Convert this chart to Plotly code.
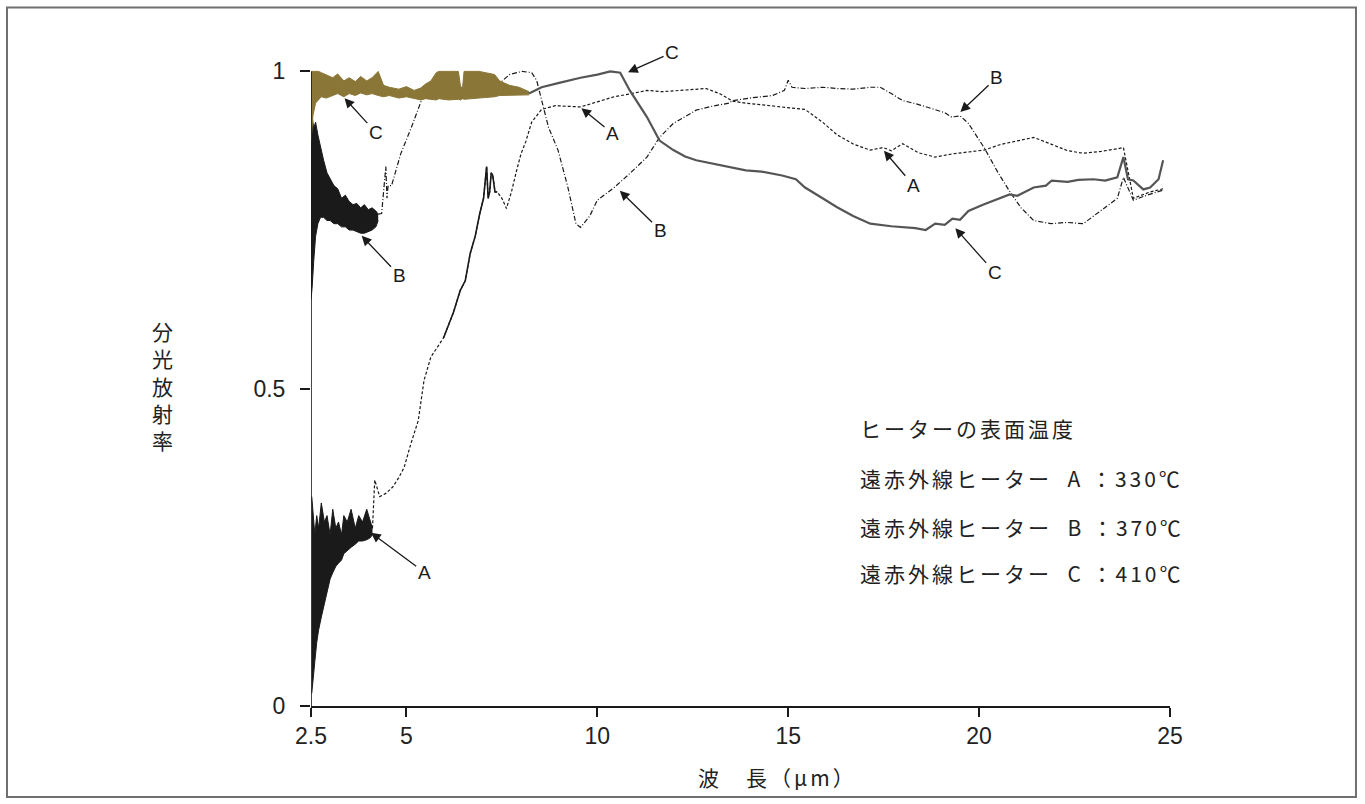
import plotly.graph_objects as go

# ---------------- data (wavelength in µm, spectral emissivity) ----------------
# Heater C (410°C): noisy band at short wavelengths
C_band_x = [2.5, 2.55, 2.62, 2.7, 2.77, 2.9, 3.07, 3.2, 3.36, 3.5, 3.66, 3.8, 3.96, 4.1, 4.26, 4.4, 4.55, 4.8,
            5.0, 5.2, 5.38, 5.5, 5.64, 5.78, 5.85, 6.1, 6.36, 6.42, 6.47, 6.51, 6.9, 7.31, 7.44, 7.7, 7.95, 8.21]
C_band_hi = [1.0, 1.0, 1.0, 1.0, 0.998, 0.995, 0.99, 0.996, 0.985, 0.99, 0.984, 0.992, 0.985, 0.99, 1.0, 0.978,
             0.975, 0.972, 0.976, 0.97, 0.974, 0.98, 0.985, 0.998, 1.0, 1.0, 1.0, 0.975, 0.975, 1.0, 1.0, 0.995,
             0.985, 0.978, 0.975, 0.968]
C_band_lo = [0.89, 0.93, 0.95, 0.955, 0.96, 0.958, 0.962, 0.965, 0.96, 0.965, 0.962, 0.966, 0.963, 0.965, 0.962,
             0.96, 0.962, 0.958, 0.96, 0.958, 0.955, 0.957, 0.956, 0.955, 0.957, 0.955, 0.956, 0.955, 0.957, 0.956,
             0.958, 0.96, 0.962, 0.962, 0.963, 0.963]
# Heater C: trace at longer wavelengths
C_x = [8.21, 8.54, 9.0, 9.56, 10.0, 10.34, 10.6, 10.85, 11.3, 11.63, 11.99, 12.3, 12.59, 13.0, 13.45, 13.89, 14.3,
       14.84, 15.2, 15.44, 15.9, 16.28, 16.7, 17.15, 17.7, 18.33, 18.6, 18.85, 19.1, 19.3, 19.5, 19.72, 20.1,
       20.57, 20.8, 21.0, 21.43, 21.75, 21.9, 22.32, 22.6, 23.0, 23.3, 23.62, 23.78, 23.9, 24.04, 24.3, 24.48,
       24.7, 24.82]
C_y = [0.965, 0.975, 0.982, 0.99, 0.995, 1.0, 0.998, 0.97, 0.928, 0.891, 0.876, 0.866, 0.86, 0.855, 0.85, 0.844,
       0.842, 0.836, 0.83, 0.817, 0.80, 0.786, 0.772, 0.76, 0.756, 0.753, 0.75, 0.76, 0.758, 0.768, 0.766, 0.78,
       0.79, 0.80, 0.806, 0.804, 0.817, 0.82, 0.828, 0.826, 0.829, 0.83, 0.828, 0.833, 0.865, 0.83, 0.828, 0.814,
       0.817, 0.83, 0.86]

# Heater A (330°C): noisy band at short wavelengths
A_band_x = [2.52, 2.56, 2.6, 2.65, 2.7, 2.77, 2.85, 2.92, 3.0, 3.07, 3.15, 3.22, 3.3, 3.36, 3.45, 3.55, 3.66,
            3.75, 3.85, 3.96, 4.05, 4.11]
A_band_hi = [0.33, 0.30, 0.27, 0.30, 0.28, 0.32, 0.29, 0.30, 0.27, 0.31, 0.28, 0.29, 0.27, 0.30, 0.29, 0.31, 0.28,
             0.30, 0.29, 0.31, 0.29, 0.28]
A_band_lo = [0.02, 0.05, 0.07, 0.10, 0.12, 0.14, 0.16, 0.18, 0.20, 0.21, 0.22, 0.225, 0.23, 0.24, 0.245, 0.25,
             0.255, 0.26, 0.26, 0.262, 0.265, 0.27]
A_x = [4.11, 4.17, 4.3, 4.46, 4.64, 4.8, 4.94, 5.1, 5.31, 5.46, 5.64, 5.8, 5.97, 6.1, 6.23, 6.41, 6.54, 6.67,
       6.8, 6.92, 7.02, 7.10, 7.14, 7.18, 7.22, 7.26, 7.32, 7.38, 7.5, 7.62, 7.75, 7.87, 8.0, 8.13, 8.28, 8.54,
       8.9, 9.2, 9.56, 10.0, 10.44, 10.9, 11.3, 11.7, 12.15, 12.5, 12.85, 13.2, 13.55, 13.89, 14.2, 14.59, 15.0,
       15.44, 15.9, 16.28, 16.72, 17.15, 17.49, 17.7, 18.0, 18.4, 18.85, 19.3, 19.72, 20.13, 20.57, 21.0, 21.43,
       21.9, 22.32, 22.73, 23.2, 23.62, 23.78, 24.04, 24.48, 24.82]
A_y = [0.28, 0.356, 0.33, 0.335, 0.345, 0.36, 0.376, 0.41, 0.45, 0.513, 0.55, 0.565, 0.58, 0.60, 0.62, 0.655,
       0.67, 0.713, 0.74, 0.776, 0.80, 0.85, 0.80, 0.81, 0.84, 0.836, 0.81, 0.81, 0.80, 0.784, 0.81, 0.84, 0.87,
       0.89, 0.92, 0.94, 0.946, 0.945, 0.944, 0.952, 0.96, 0.965, 0.97, 0.968, 0.97, 0.972, 0.973, 0.965, 0.953,
       0.95, 0.948, 0.945, 0.942, 0.94, 0.92, 0.90, 0.885, 0.876, 0.88, 0.875, 0.886, 0.872, 0.865, 0.87, 0.873,
       0.876, 0.885, 0.89, 0.896, 0.885, 0.875, 0.871, 0.874, 0.878, 0.88, 0.80, 0.81, 0.815]

# Heater B (370°C)
B_band_x = [2.5, 2.53, 2.57, 2.62, 2.68, 2.75, 2.83, 2.92, 3.0, 3.1, 3.2, 3.3, 3.4, 3.5, 3.6, 3.7, 3.8, 3.9, 4.0,
            4.1, 4.2, 4.26]
B_band_hi = [0.92, 0.93, 0.91, 0.92, 0.90, 0.88, 0.86, 0.84, 0.83, 0.82, 0.815, 0.80, 0.805, 0.795, 0.79, 0.792,
             0.785, 0.79, 0.782, 0.785, 0.78, 0.775]
B_band_lo = [0.64, 0.66, 0.70, 0.74, 0.76, 0.77, 0.77, 0.765, 0.765, 0.76, 0.76, 0.755, 0.755, 0.75, 0.75, 0.748,
             0.745, 0.745, 0.748, 0.75, 0.755, 0.765]
B_x = [4.26, 4.35, 4.46, 4.49, 4.52, 4.61, 4.85, 5.13, 5.46, 5.56, 5.9, 6.67, 7.44, 7.51, 7.7, 8.03, 8.28, 8.41,
       8.54, 8.72, 8.97, 9.23, 9.44, 9.56, 9.8, 10.0, 10.44, 10.85, 11.3, 11.63, 11.99, 12.59, 13.0, 13.45, 13.55,
       14.0, 14.59, 14.9, 15.0, 15.1, 15.44, 15.9, 16.28, 16.7, 17.15, 17.41, 17.7, 18.0, 18.4, 18.85, 19.1, 19.28,
       19.5, 19.72, 20.13, 20.5, 20.83, 21.1, 21.43, 21.88, 22.3, 22.73, 23.18, 23.62, 23.78, 24.04, 24.4, 24.82]
B_y = [0.775, 0.776, 0.85, 0.80, 0.82, 0.82, 0.87, 0.912, 0.965, 0.967, 0.972, 0.975, 0.978, 0.985, 0.995, 1.0,
       0.998, 0.986, 0.954, 0.912, 0.876, 0.817, 0.76, 0.754, 0.772, 0.797, 0.817, 0.839, 0.865, 0.896, 0.918,
       0.939, 0.945, 0.95, 0.954, 0.958, 0.962, 0.97, 0.986, 0.975, 0.973, 0.975, 0.973, 0.972, 0.975, 0.975,
       0.965, 0.954, 0.948, 0.94, 0.935, 0.928, 0.93, 0.918, 0.88, 0.84, 0.808, 0.785, 0.765, 0.76, 0.762, 0.76,
       0.78, 0.80, 0.833, 0.797, 0.805, 0.813]

x_ticks = [2.5, 5, 10, 15, 20, 25]
x_ticktext = ["2.5", "5", "10", "15", "20", "25"]
y_ticks = [0, 0.5, 1]
y_ticktext = ["0", "0.5", "1"]

# labels: (text, tip x, tip y, dx px, dy px)
labels = [
    ("C", 10.78, 0.998, 45, -20),
    ("C", 3.36, 0.959, 32, 35),
    ("A", 9.56, 0.943, 32, 26),
    ("B", 3.81, 0.742, 38, 40),
    ("B", 10.57, 0.813, 41, 40),
    ("B", 19.49, 0.935, 37, -35),
    ("A", 17.49, 0.876, 30, 35),
    ("C", 19.36, 0.754, 40, 45),
    ("A", 4.05, 0.274, 54, 40),
]
legend_title = "ヒーターの表面温度"
legend_lines = ["遠赤外線ヒーター  A ：330℃", "遠赤外線ヒーター  B ：370℃", "遠赤外線ヒーター  C ：410℃"]

# ---------------- figure ----------------
OLIVE = "#8a7637"
INK = "#1a1a1a"
JP = "Noto Sans CJK JP, sans-serif"
LAT = "Liberation Sans, Arial, sans-serif"

fig = go.Figure()

def band(x, lo, hi, color):
    fig.add_trace(go.Scatter(x=x, y=lo, mode="lines", line=dict(color=color, width=1), showlegend=False,
                             hoverinfo="skip"))
    fig.add_trace(go.Scatter(x=x, y=hi, mode="lines", line=dict(color=color, width=1), fill="tonexty",
                             fillcolor=color, showlegend=False, hoverinfo="skip"))

band(A_band_x, A_band_lo, A_band_hi, INK)
band(B_band_x, B_band_lo, B_band_hi, INK)

fig.add_trace(go.Scatter(x=A_x, y=A_y, mode="lines", line=dict(color=INK, width=1.2, dash="3px,2px"),
                         showlegend=False))
# dense solid portion of A around 6-7.4 µm
i0, i1 = A_x.index(5.97), A_x.index(7.38) + 1
fig.add_trace(go.Scatter(x=A_x[i0:i1], y=A_y[i0:i1], mode="lines", line=dict(color=INK, width=1.6),
                         showlegend=False))
fig.add_trace(go.Scatter(x=B_x, y=B_y, mode="lines", line=dict(color=INK, width=1.2, dash="5px,2px,1px,2px"),
                         showlegend=False))
band(C_band_x, C_band_lo, C_band_hi, OLIVE)
fig.add_trace(go.Scatter(x=C_x, y=C_y, mode="lines", line=dict(color="#555555", width=2.2), showlegend=False))

annotations = []
for t, x, y, dx, dy in labels:
    annotations.append(dict(x=x, y=y, xref="x", yref="y", text=t, showarrow=True, ax=dx, ay=dy,
                            arrowhead=2, arrowsize=1.5, arrowwidth=1.3, arrowcolor=INK, standoff=1,
                            font=dict(family=LAT, size=19, color=INK)))

sp = '<span style="letter-spacing:3px">%s</span>'
annotations.append(dict(x=0.6368, y=0.421, xref="paper", yref="paper", xanchor="left", yanchor="middle",
                        showarrow=False, text=sp % legend_title, font=dict(family=JP, size=21, color="#222")))
for k, line in enumerate(legend_lines):
    annotations.append(dict(x=0.6368, y=[0.345, 0.271, 0.201][k], xref="paper", yref="paper",
                            xanchor="left", yanchor="middle", showarrow=False, text=sp % line,
                            font=dict(family=JP, size=21, color="#222")))
# axis titles
annotations.append(dict(x=-0.1723, y=0.486, xref="paper", yref="paper", xanchor="center", yanchor="middle",
                        showarrow=False, text="分<br>光<br>放<br>射<br>率",
                        font=dict(family=JP, size=21, color="#222")))
annotations.append(dict(x=0.5425, y=-0.1076, xref="paper", yref="paper", xanchor="center", yanchor="middle",
                        showarrow=False, text=sp % "波　長（μm）",
                        font=dict(family=JP, size=21, color="#222")))

shapes = [
    dict(type="rect", xref="paper", yref="paper", x0=-0.3539, x1=1.2165, y0=-0.1378, y1=1.0585,
         line=dict(color="#707070", width=2)),
    dict(type="line", xref="x", yref="y", x0=2.5, x1=2.5, y0=0, y1=1, line=dict(color=INK, width=1.6)),
]

fig.update_layout(
    width=1365, height=804,
    margin=dict(l=311, r=195, t=46, b=98),
    paper_bgcolor="white", plot_bgcolor="white",
    annotations=annotations, shapes=shapes,
    xaxis=dict(range=[2.5, 25], tickvals=x_ticks, ticktext=x_ticktext, showgrid=False, zeroline=False,
               showline=True, linecolor=INK, linewidth=1.5, ticks="outside", ticklen=9, tickwidth=1.5,
               tickcolor=INK, tickfont=dict(family=LAT, size=23, color="#222")),
    yaxis=dict(range=[0, 1.04], tickvals=y_ticks, ticktext=y_ticktext, showgrid=False, zeroline=False,
               showline=False, ticks="outside", ticklen=10, tickwidth=1.5, tickcolor=INK,
               ticklabelstandoff=10, tickfont=dict(family=LAT, size=23, color="#222")),
)

fig.write_html("out.html")
